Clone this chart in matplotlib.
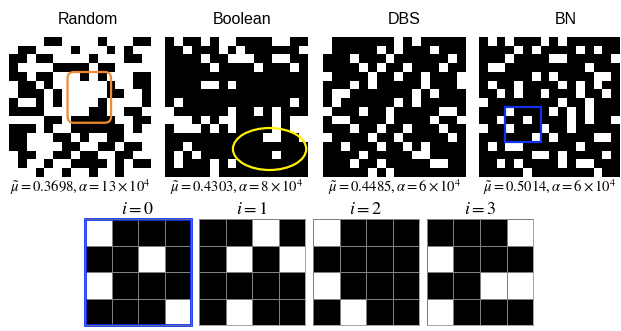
import numpy as np
import matplotlib.pyplot as plt
from matplotlib.patches import Rectangle, Ellipse, FancyBboxPatch

plt.rcParams['mathtext.fontset'] = 'stix'

# '#' = black cell, '.' = white cell
random_grid = [
    "....##....#...##",
    ".##....#...#.#..",
    "##.##....#...##.",
    "#....####.##....",
    "##.##...#.#...##",
    ".##.#......#..##",
    ".###.#.....##..#",
    "#..#.#....#....#",
    "####.....##..##.",
    "....##.#####..##",
    "###.#..######.#.",
    "##...##.#..##...",
    "##....##..##.##.",
    ".##..##.##..##..",
    ".#..#..####.#.##",
    "...#..#..#..#...",
]
boolean_grid = [
    "#.##.#..####..##",
    "##.###.#.######.",
    "####.##...##..##",
    "#####.####.###.#",
    "################",
    "####..#.########",
    "################",
    "#.############.#",
    ".######.##.#.###",
    "...#.#..####.#..",
    "#...#.#.####.#..",
    "###########..##.",
    "##.#############",
    "#.#.########.###",
    "#.###.#.########",
    "#####.##########",
]
dbs_grid = [
    ".#######.#.#####",
    ".#####.#.###.###",
    "###.###.######.#",
    "####.#.##.###.##",
    ".####.##.##.###.",
    "###.#.#####.###.",
    "#..#######.#.###",
    "#.######.#.#####",
    ".###.##.#####..#",
    "#..####.####.##.",
    "###.##.##.###.##",
    ".####.##.#####.#",
    "##.###.##.#.####",
    "####.#####..####",
    "###.##.#####..##",
    "#####.#.########",
]
bn_grid = [
    "#.#.###.#.######",
    "####.#.####.#.##",
    "###.####..#####.",
    "#..#########.###",
    "######.#.####..#",
    "#.##.####.#.#.##",
    "##.#.##.###.##.#",
    ".########.##.###",
    "###.####.#.#.###",
    "##.##.####.#.##.",
    ".##.###.##.#####",
    "######.#.####..#",
    "#.#..######.####",
    "######..#.####.#",
    "##.#.####.#..###",
    "#####.#######.##",
]

titles = ["Random", "Boolean", "DBS", "BN"]
mu_vals = ["0.3698", "0.4303", "0.4485", "0.5014"]
alpha_vals = ["13", "8", "6", "6"]

# 4x4 sub-patterns, i = 0..3
patches = [
    [".###", "##.#", ".###", "###."],
    ["##.#", "#.#.", "####", "#.##"],
    [".###", "####", ".###", "#.##"],
    ["###.", ".###", "##..", ".###"],
]

W, H = 621, 331


def to_array(rows):
    return np.array([[1 if c == "#" else 0 for c in r] for r in rows])


def px_axes(fig, x0, y0, x1, y1):
    return fig.add_axes([x0 / W, 1 - y1 / H, (x1 - x0) / W, (y1 - y0) / H])


fig = plt.figure(figsize=(W / 100, H / 100), dpi=100)

grids = [random_grid, boolean_grid, dbs_grid, bn_grid]
top_x = [(9, 151), (165, 308), (323, 466), (479, 620)]
title_x = [88, 242, 404, 566]
for k, rows in enumerate(grids):
    x0, x1 = top_x[k]
    ax = px_axes(fig, x0, 37, x1, 177)
    a = to_array(rows)
    ax.imshow(a, cmap="gray_r", vmin=0, vmax=1, interpolation="nearest",
              extent=(0, 16, 16, 0), aspect="auto")
    ax.set_xlim(0, 16)
    ax.set_ylim(16, 0)
    ax.axis("off")
    cx = (x0 + x1) / 2
    fig.text(title_x[k] / W, 1 - 20 / H, titles[k], ha="center", va="center",
             fontsize=11.5, family="Liberation Sans")
    fig.text(cx / W, 1 - 187 / H,
             r"$\tilde{\mu} = %s, \alpha = %s\times 10^4$" % (mu_vals[k], alpha_vals[k]),
             ha="center", va="center", fontsize=10.5)
    if k == 0:
        ax.add_patch(FancyBboxPatch((6.6, 4.0), 4.9, 5.8,
                                    boxstyle="round,pad=0,rounding_size=0.7",
                                    fill=False, ec="#f0892f", lw=1.6, clip_on=False))
    elif k == 1:
        ax.add_patch(Ellipse((11.7, 12.8), 8.2, 4.8, fill=False,
                             ec="#fff000", lw=1.6, clip_on=False))
    elif k == 3:
        ax.add_patch(Rectangle((3, 8), 4, 4, fill=False, ec="#1030f0",
                               lw=1.6, clip_on=False))

bottom_x = [85, 199, 313, 427]
for k, rows in enumerate(patches):
    x0 = bottom_x[k]
    ax = px_axes(fig, x0, 219, x0 + 106, 325)
    a = to_array(rows)
    ax.pcolormesh(np.arange(5), np.arange(5), a, cmap="gray_r", vmin=0, vmax=1)
    # outline the white cells with a thin grey edge
    white = np.ma.masked_where(a == 1, a)
    ax.pcolormesh(np.arange(5), np.arange(5), white, cmap="gray_r", vmin=0, vmax=1,
                  edgecolors="0.5", linewidth=0.6)
    ax.set_xlim(0, 4)
    ax.set_ylim(4, 0)
    ax.set_xticks([])
    ax.set_yticks([])
    for s in ax.spines.values():
        s.set_color("0.5")
        s.set_linewidth(0.5)
    if k == 0:
        ax.add_patch(Rectangle((0, 0), 4, 4, fill=False, ec="#1030f0",
                               lw=2, clip_on=False))
    fig.text((x0 + 53) / W, 1 - 209 / H, r"$i = %d$" % k,
             ha="center", va="center", fontsize=13)

fig.savefig("out.png", dpi=100)
